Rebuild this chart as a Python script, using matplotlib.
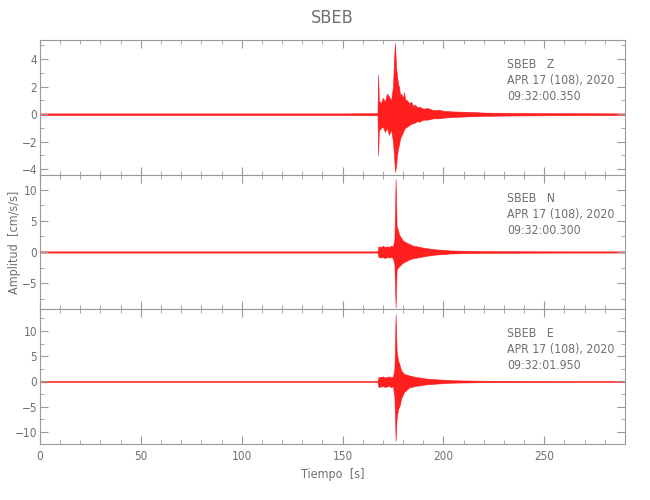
import matplotlib
matplotlib.use("Agg")
import matplotlib.pyplot as plt
from matplotlib.ticker import MultipleLocator

plt.rcParams['font.family'] = ['DejaVu Sans']
plt.rcParams['font.stretch'] = 'condensed'
plt.rcParams['font.weight'] = 'light'

station = "SBEB"
components = ["Z", "N", "E"]
dates = ["APR 17 (108), 2020"] * 3
start_times = ["09:32:00.350", "09:32:00.300", "09:32:01.950"]

# Envelope of each trace (time [s], upper, lower)
t_z = [0, 50, 100, 150, 167.3, 167.6, 168, 169, 170, 171, 172, 173, 174, 175,
       175.5, 176, 176.5, 177, 177.5, 178, 178.5, 179, 180, 180.5, 181, 182, 183,
       184, 185, 186, 187, 188, 190, 192, 195, 198, 200, 205, 210, 220, 230, 250, 290]
up_z = [0.06, 0.06, 0.06, 0.06, 0.08, 2.9, 1.0, 0.8, 1.2, 0.9, 1.5, 1.3, 1.0, 2.0,
        4.0, 5.2, 3.5, 2.8, 2.2, 2.0, 1.4, 1.5, 1.2, 1.6, 1.1, 1.0, 0.8,
        0.9, 0.6, 0.7, 0.5, 0.55, 0.4, 0.45, 0.3, 0.32, 0.25, 0.2, 0.18, 0.12, 0.1, 0.08, 0.06]
lo_z = [-0.06, -0.06, -0.06, -0.06, -0.08, -3.0, -1.2, -1.0, -0.9, -1.3, -1.0, -1.5, -1.1, -2.0,
        -3.0, -4.2, -3.8, -3.0, -2.5, -2.2, -1.8, -1.6, -1.3, -1.1, -1.0, -0.9, -0.8,
        -0.7, -0.65, -0.6, -0.5, -0.55, -0.4, -0.4, -0.3, -0.3, -0.25, -0.2, -0.17, -0.12, -0.1, -0.08, -0.06]

t_n = [0, 50, 100, 150, 167.3, 167.8, 169, 170, 171, 172, 173, 174, 175, 175.7,
       176.3, 176.8, 177.5, 178, 179, 180, 181.7, 183, 185, 187, 190, 193,
       196.7, 200, 203, 210, 220, 240, 260, 290]
up_n = [0.1, 0.1, 0.1, 0.1, 0.1, 0.9, 0.8, 1.0, 0.8, 0.9, 0.8, 1.0, 0.9, 2.0,
        11.7, 4.2, 3.5, 2.8, 2.3, 1.8, 1.5, 1.3, 1.0, 0.9, 0.7, 0.55,
        0.4, 0.35, 0.25, 0.2, 0.15, 0.12, 0.1, 0.1]
lo_n = [-0.1, -0.1, -0.1, -0.1, -0.1, -0.8, -0.9, -0.8, -1.0, -0.8, -0.9, -0.8, -1.0, -2.0,
        -8.9, -2.8, -2.5, -2.3, -2.0, -1.7, -1.45, -1.2, -1.0, -0.9, -0.7, -0.55,
        -0.4, -0.35, -0.25, -0.2, -0.15, -0.12, -0.1, -0.1]

t_e = [0, 50, 100, 150, 167.3, 167.8, 169, 170, 171, 172, 173, 174, 175, 175.7,
       176.3, 176.8, 177.5, 178.4, 179, 180.5, 183, 186, 188, 191, 194,
       197.5, 200, 204, 210, 220, 240, 260, 290]
up_e = [0.1, 0.1, 0.1, 0.1, 0.1, 0.85, 0.9, 1.0, 0.8, 0.9, 1.0, 0.8, 1.0, 2.5,
        13.3, 6.1, 4.2, 3.1, 2.2, 1.5, 1.2, 0.9, 0.8, 0.6, 0.5,
        0.4, 0.35, 0.25, 0.2, 0.15, 0.12, 0.1, 0.1]
lo_e = [-0.1, -0.1, -0.1, -0.1, -0.1, -1.1, -1.0, -0.9, -1.1, -1.0, -0.9, -1.1, -1.0, -3.0,
        -11.8, -7.3, -5.5, -4.7, -3.4, -2.1, -1.2, -0.9, -0.8, -0.6, -0.5,
        -0.4, -0.35, -0.25, -0.2, -0.15, -0.12, -0.1, -0.1]

ylims = [(-4.4, 5.4), (-9.2, 12.4), (-12.4, 14.3)]
ymajor = [2, 5, 5]
yminor = [1, 2.5, 2.5]
xlim = (0, 290)

frame_col = '#999999'
text_col = '#707070'

fig, axes = plt.subplots(3, 1, figsize=(6.5, 5.0), dpi=100, sharex=True)
fig.subplots_adjust(left=0.0615, right=0.9615, top=0.92, bottom=0.112, hspace=0)

traces = [(t_z, up_z, lo_z), (t_n, up_n, lo_n), (t_e, up_e, lo_e)]
for i, ax in enumerate(axes):
    t, up, lo = traces[i]
    ax.fill_between(t, lo, up, color='#ff0000', alpha=0.88, linewidth=0.4,
                    edgecolor='#ff1010')
    ax.set_xlim(*xlim)
    ax.set_ylim(*ylims[i])
    ax.xaxis.set_major_locator(MultipleLocator(50))
    ax.xaxis.set_minor_locator(MultipleLocator(10))
    ax.yaxis.set_major_locator(MultipleLocator(ymajor[i]))
    ax.yaxis.set_minor_locator(MultipleLocator(yminor[i]))
    ax.tick_params(which='both', direction='in', top=True, right=True,
                   color=frame_col, labelcolor=text_col, labelsize=8.5)
    ax.tick_params(axis='x', pad=4)
    ax.tick_params(axis='y', pad=2)
    ax.tick_params(which='major', length=6)
    ax.tick_params(which='minor', length=3)
    for s in ax.spines.values():
        s.set_color(frame_col)
    ax.text(0.798, 0.87, f"{station}   {components[i]}\n{dates[i]}\n{start_times[i]}",
            transform=ax.transAxes, ha='left', va='top', fontsize=8.8,
            color=text_col, linespacing=1.3)

axes[0].set_title(station, color=text_col, fontsize=13, pad=12)
axes[1].set_ylabel("Amplitud  [cm/s/s]", color=text_col, fontsize=9)
axes[1].yaxis.set_label_coords(-0.033, 0.5)
axes[2].set_xlabel("Tiempo  [s]", color=text_col, fontsize=9)

fig.savefig("out.png", dpi=100)
